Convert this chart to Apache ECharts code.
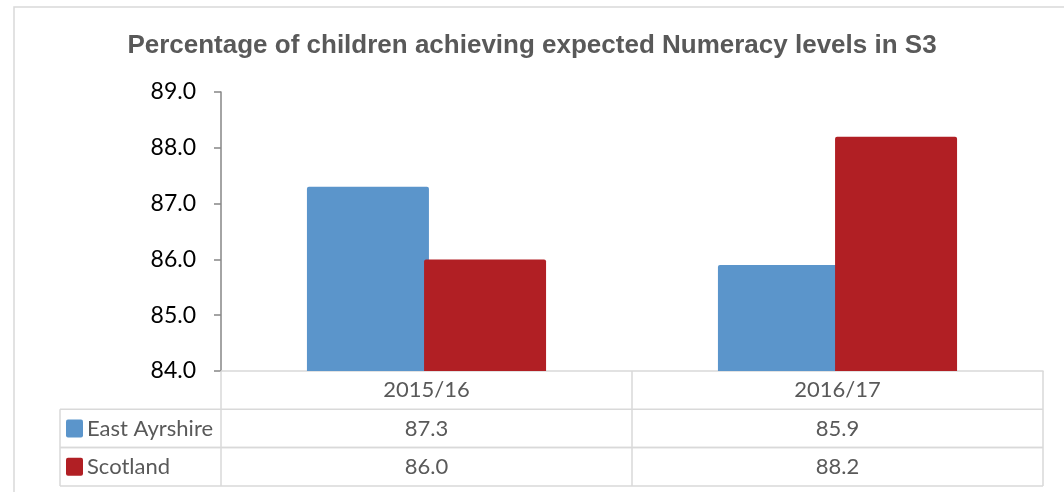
<!DOCTYPE html>
<html>
<head>
<meta charset="utf-8">
<script src="https://cdn.jsdelivr.net/npm/echarts@6/dist/echarts.min.js"></script>
<style>
html,body{margin:0;padding:0;background:#fff;}
#chart{width:1064px;height:492px;}
</style>
</head>
<body>
<div id="chart"></div>
<script>
const titleText = 'Percentage of children achieving expected Numeracy levels in S3';
const categories = ['2015/16', '2016/17'];
const seriesNames = ['East Ayrshire', 'Scotland'];
const eastAyrshire = [87.3, 85.9];
const scotland = [86.0, 88.2];
const yTicks = [84, 85, 86, 87, 88, 89];
const seriesValues = [eastAyrshire, scotland];
const colors = ['#5B95CB', '#B11F24'];

const W = 1064, H = 492;
const gridLeft = 221, gridRight = 1043, gridTop = 92, gridBottom = 371;
const rowH = 38.3;
const legendColLeft = 60;
const gray = '#595959';
const lineCol = '#D9D9D9';

const chart = echarts.init(document.getElementById('chart'), null, {renderer: 'canvas'});

const graphics = [];
// outer border
graphics.push({type: 'rect', shape: {x: 14, y: 7, width: 1100, height: 600}, style: {fill: 'none', stroke: lineCol, lineWidth: 1.5}, silent: true, z: 0});

const colW = (gridRight - gridLeft) / categories.length;
const tableBottom = gridBottom + rowH * (seriesNames.length + 1);
// vertical lines
for (let i = 0; i <= categories.length; i++) {
  const x = gridLeft + i * colW;
  graphics.push({type: 'line', shape: {x1: x, y1: gridBottom, x2: x, y2: tableBottom}, style: {stroke: lineCol, lineWidth: 1.5}, z: 1});
}
graphics.push({type: 'line', shape: {x1: legendColLeft, y1: gridBottom + rowH, x2: legendColLeft, y2: tableBottom}, style: {stroke: lineCol, lineWidth: 1.5}, z: 1});
// horizontal lines
for (let r = 1; r <= seriesNames.length; r++) {
  const y = gridBottom + rowH * (r + 1);
  graphics.push({type: 'line', shape: {x1: legendColLeft, y1: gridBottom + rowH * r, x2: gridRight, y2: gridBottom + rowH * r}, style: {stroke: lineCol, lineWidth: 1.5}, z: 1});
  graphics.push({type: 'line', shape: {x1: legendColLeft, y1: y, x2: gridRight, y2: y}, style: {stroke: lineCol, lineWidth: 1.5}, z: 1});
}
// rows
seriesNames.forEach((name, r) => {
  const cy = gridBottom + rowH * (r + 1) + rowH / 2;
  graphics.push({type: 'rect', shape: {x: 66, y: cy - 9, width: 17, height: 18, r: 2}, style: {fill: colors[r]}, z: 2});
  graphics.push({type: 'text', x: 87, y: cy, style: {text: name, fill: gray, font: '22px Lato', verticalAlign: 'middle', align: 'left'}, z: 2});
  categories.forEach((c, i) => {
    graphics.push({type: 'text', x: gridLeft + colW * (i + 0.5), y: cy, style: {text: seriesValues[r][i].toFixed(1), fill: gray, font: '22px Lato', verticalAlign: 'middle', align: 'center'}, z: 2});
  });
});

const option = {
  backgroundColor: '#fff',
  animation: false,
  title: {
    text: titleText, left: 'center', top: 28,
    textStyle: {fontFamily: 'Liberation Sans', fontWeight: 'bold', fontSize: 26, color: gray}
  },
  grid: {left: gridLeft, right: W - gridRight, top: gridTop, bottom: H - gridBottom, containLabel: false},
  xAxis: {
    type: 'category', data: categories,
    axisLine: {show: true, lineStyle: {color: lineCol, width: 1.5}},
    axisTick: {show: false},
    axisLabel: {color: gray, fontFamily: 'Lato', fontSize: 22, margin: 8}
  },
  yAxis: {
    type: 'value', min: yTicks[0], max: yTicks[yTicks.length - 1], interval: 1,
    axisLine: {show: true, lineStyle: {color: '#868686', width: 1.5}},
    axisTick: {show: true, length: 7, lineStyle: {color: '#868686', width: 1.5}},
    splitLine: {show: false},
    axisLabel: {color: '#000', fontFamily: 'Lato', fontSize: 23, margin: 25, formatter: v => v.toFixed(1)}
  },
  series: seriesNames.map((name, r) => ({
    type: 'bar', name: name, data: seriesValues[r],
    barWidth: 122, barGap: '-4%',
    itemStyle: {color: colors[r], borderRadius: [2, 2, 0, 0]},
    z: 2 + r
  })),
  graphic: graphics
};
chart.setOption(option);
</script>
</body>
</html>
